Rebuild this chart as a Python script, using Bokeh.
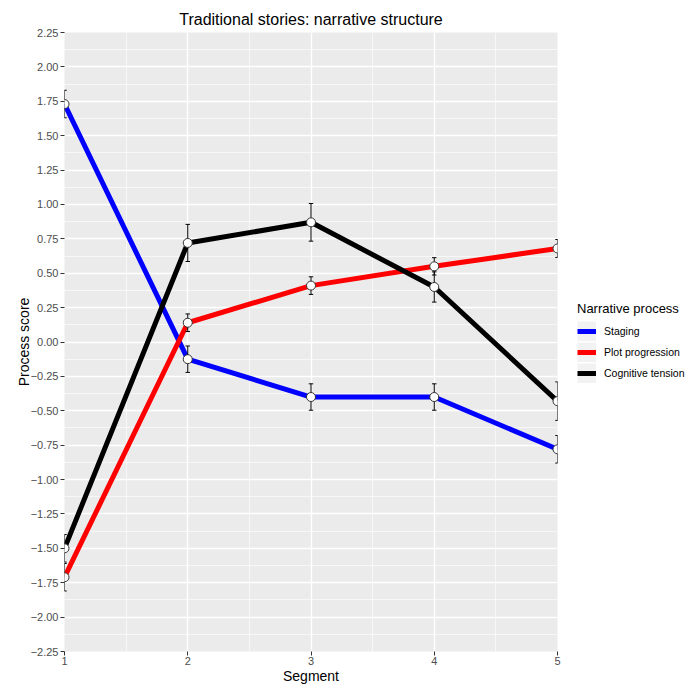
import numpy as np
from bokeh.plotting import figure
from bokeh.models import (Range1d, FixedTicker, Legend, LegendItem)
from bokeh.embed import file_html
from bokeh.resources import INLINE

# ---------------- data ----------------
segments = [1, 2, 3, 4, 5]
series_names = ["Staging", "Plot progression", "Cognitive tension"]
staging = [1.73, -0.125, -0.40, -0.40, -0.78]
staging_err = [0.10, 0.096, 0.096, 0.096, 0.10]
plot_prog = [-1.71, 0.14, 0.41, 0.55, 0.68]
plot_prog_err = [0.10, 0.064, 0.064, 0.063, 0.065]
cog_tension = [-1.50, 0.72, 0.87, 0.40, -0.43]
cog_tension_err = [0.10, 0.135, 0.137, 0.11, 0.14]
y_ticks = [-2.25, -2.0, -1.75, -1.5, -1.25, -1.0, -0.75, -0.5, -0.25, 0.0,
           0.25, 0.5, 0.75, 1.0, 1.25, 1.5, 1.75, 2.0, 2.25]
x_ticks = [1, 2, 3, 4, 5]

colors = ["#0000FF", "#FF0000", "#000000"]
FONT = "Liberation Sans"
CAP = 0.018  # half width of error bar caps (data units)

p = figure(frame_width=493, frame_height=619, output_backend="svg",
           toolbar_location=None,
           x_range=Range1d(1, 5), y_range=Range1d(-2.25, 2.25),
           min_border_left=64, min_border_right=140, min_border_top=32,
           min_border_bottom=30)

p.title.text = "Traditional stories: narrative structure"
p.title.align = "center"
p.title.text_font = FONT
p.title.text_font_size = "16px"
p.title.text_font_style = "normal"
p.title.text_color = "#000000"

p.background_fill_color = "#EBEBEB"
p.border_fill_color = "#FFFFFF"
p.outline_line_color = None

for g in (p.xgrid, p.ygrid):
    g.grid_line_color = "#FFFFFF"
    g.grid_line_width = 1.4
    g.minor_grid_line_color = "#FFFFFF"
    g.minor_grid_line_width = 0.6

p.xaxis.ticker = FixedTicker(ticks=x_ticks,
                             minor_ticks=[1.5, 2.5, 3.5, 4.5])
p.yaxis.ticker = FixedTicker(ticks=y_ticks,
                             minor_ticks=[t + 0.125 for t in y_ticks[:-1]])
p.xaxis.major_label_overrides = {t: str(t) for t in x_ticks}
p.yaxis.major_label_overrides = {t: f"{t:.2f}".replace("-", "\u2212") for t in y_ticks}

p.xaxis.axis_label = "Segment"
p.yaxis.axis_label = "Process score"

for ax in (p.xaxis, p.yaxis):
    ax.axis_line_color = None
    ax.major_tick_line_color = "#333333"
    ax.major_tick_in = 0
    ax.major_tick_out = 4
    ax.minor_tick_line_color = None
    ax.major_label_text_font = FONT
    ax.major_label_text_font_size = "11px"
    ax.major_label_text_color = "#4D4D4D"
    ax.major_label_standoff = 2
    ax.axis_label_text_font = FONT
    ax.axis_label_text_font_size = "14px"
    ax.axis_label_text_font_style = "normal"
    ax.axis_label_text_color = "#000000"
    ax.axis_label_standoff = 0
p.xaxis.major_label_standoff = 1
p.yaxis.axis_label_standoff = -4

# ---------------- lines, error bars, points ----------------
all_vals = [staging, plot_prog, cog_tension]
all_errs = [staging_err, plot_prog_err, cog_tension_err]
for vals, col in zip(all_vals, colors):
    p.line(segments, vals, line_color=col, line_width=5)

for vals, errs in zip(all_vals, all_errs):
    x = np.array(segments, dtype=float)
    v = np.array(vals)
    e = np.array(errs)
    lo, hi = v - e, v + e
    p.segment(x0=x, y0=lo, x1=x, y1=hi, line_color="#000000", line_width=1)
    p.segment(x0=x - CAP, y0=lo, x1=x + CAP, y1=lo, line_color="#000000", line_width=1)
    p.segment(x0=x - CAP, y0=hi, x1=x + CAP, y1=hi, line_color="#000000", line_width=1)
    p.scatter(segments, vals, marker="circle", size=9, fill_color="#FFFFFF",
              line_color="#333333", line_width=1)

# ---------------- legend ----------------
items = []
off_x = [-10.0, -9.0]   # legend-only renderers kept outside the visible range
off_y = [-10.0, -10.0]
for name, col in zip(series_names, colors):
    bg = p.line(x=off_x, y=off_y, line_color="#F2F2F2", line_width=20)
    fg = p.line(x=off_x, y=off_y, line_color=col, line_width=5)
    items.append(LegendItem(label=name, renderers=[bg, fg]))

legend = Legend(items=items, location="center_left", title="Narrative process",
                title_text_font=FONT, title_text_font_size="13px",
                title_text_font_style="normal", title_text_color="#000000",
                title_standoff=5,
                label_text_font=FONT, label_text_font_size="10.5px",
                label_text_color="#000000", label_standoff=8,
                glyph_width=19, glyph_height=20, label_height=20, spacing=1,
                padding=0, margin=20, border_line_color=None,
                background_fill_color="#FFFFFF")
p.add_layout(legend, "right")

open("out.html", "w").write(file_html(p, INLINE))
